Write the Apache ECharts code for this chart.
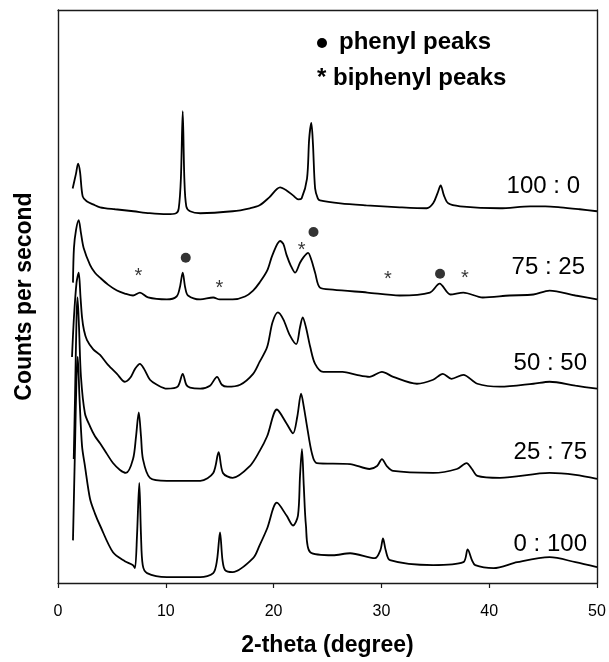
<!DOCTYPE html>
<html><head><meta charset="utf-8">
<script src="https://cdn.jsdelivr.net/npm/echarts@6/dist/echarts.min.js"></script>
<style>html,body{margin:0;padding:0;background:#fff;overflow:hidden}#c{width:609px;height:662px}</style>
</head><body><div id="c"></div>
<script>
// [2-theta (deg), counts (arbitrary, offset-stacked)]
const trace100_0 = [[1.36,398],[1.67,413],[1.86,423],[2.04,415],[2.29,390],[2.66,385],[3.25,382],[3.9,379],[5.3,377],[7.0,375],[8.5,373],[10.1,372],[10.95,373],[11.2,378],[11.4,408],[11.57,476],[11.72,408],[11.9,380],[12.25,375],[13.2,373],[16.2,375],[17.8,378],[18.7,381],[19.6,389],[20.6,399],[21.2,396],[21.8,391],[22.3,387],[22.6,388],[23.1,408],[23.3,448],[23.5,464],[23.65,443],[23.85,398],[24.1,388],[24.3,386],[26.2,383],[28.6,381],[31.7,379],[34.2,378],[34.8,383],[35.2,393],[35.5,401],[35.8,391],[36.2,383],[37.3,380],[41.0,378],[43.8,380],[45.2,380],[46.6,379],[48.4,377],[50,375]];
const trace75_25 = [[1.39,303],[1.48,338],[1.67,356],[1.92,366],[2.13,353],[2.38,338],[2.97,321],[3.43,313],[3.9,308],[4.64,301],[5.47,295],[6.2,292],[6.96,290],[7.6,293],[8.35,288],[10.1,286],[11.0,289],[11.3,298],[11.57,313],[11.8,298],[12.06,290],[13.2,286],[14.4,288],[15.0,286],[16.2,286],[17.35,289],[18.1,295],[18.7,303],[19.4,315],[19.9,331],[20.6,345],[20.9,342],[21.2,331],[21.6,320],[22.0,313],[22.45,323],[22.8,329],[23.2,333],[23.5,326],[23.85,313],[24.3,298],[25.5,296],[28.7,293],[31.7,290],[34.5,293],[35.4,302],[36.4,291],[37.6,293],[39.4,288],[41.9,290],[44.1,291],[45.6,295],[48.0,290],[50,286]];
const trace50_50 = [[1.3,228],[1.48,268],[1.72,303],[1.92,313],[2.09,288],[2.23,268],[2.41,255],[2.69,245],[3.25,236],[3.9,230],[4.64,220],[5.47,211],[6.2,203],[6.7,207],[7.15,216],[7.6,221],[7.98,216],[8.53,205],[9.18,200],[10.1,196],[11.1,198],[11.57,211],[11.9,200],[12.25,197],[13.2,196],[14.1,199],[14.75,208],[15.2,200],[15.7,198],[16.9,200],[18.1,211],[18.7,223],[19.4,238],[19.9,263],[20.4,273],[20.9,266],[21.5,250],[22.1,241],[22.45,258],[22.7,268],[23.0,258],[23.4,238],[23.85,221],[24.6,213],[26.4,213],[27.7,210],[28.9,208],[30.05,213],[31.1,208],[33.3,201],[34.8,205],[35.7,211],[36.5,206],[37.6,210],[38.9,201],[41.0,198],[44.1,201],[45.6,203],[48.0,199],[50,196]];
const trace25_75 = [[1.46,125],[1.58,188],[1.72,268],[1.81,288],[1.95,258],[2.13,208],[2.5,171],[2.97,158],[3.43,148],[3.9,141],[4.55,130],[5.1,121],[5.75,114],[6.3,111],[6.96,125],[7.24,148],[7.49,172],[7.7,148],[7.88,125],[8.53,106],[10.1,103],[13.2,103],[14.4,111],[14.9,132],[15.3,111],[16.2,106],[17.8,118],[18.7,133],[19.4,148],[20.3,175],[21.2,161],[21.8,151],[22.2,168],[22.55,191],[22.8,178],[23.1,158],[23.55,131],[24.0,121],[27.1,120],[28.9,115],[29.6,118],[30.05,125],[30.5,118],[31.1,113],[34.8,111],[37.0,115],[37.9,121],[38.4,115],[38.9,108],[41.0,106],[45.6,111],[48.0,109],[50,105]];
const trace0_100 = [[1.39,43],[1.58,138],[1.72,208],[1.83,228],[1.99,188],[2.23,138],[2.5,118],[2.97,85],[3.43,70],[3.9,58],[5.1,31],[6.2,22],[6.96,18],[7.14,15],[7.33,48],[7.54,101],[7.7,48],[7.86,18],[8.26,10],[10.1,6],[13.2,6],[14.4,10],[14.75,23],[15.03,51],[15.26,23],[15.5,13],[16.2,11],[18.1,25],[18.7,38],[19.4,55],[20.3,81],[21.2,68],[21.8,58],[22.26,68],[22.45,108],[22.63,135],[22.8,98],[23.0,58],[23.4,31],[25.5,28],[27.1,30],[29.4,25],[29.9,33],[30.15,45],[30.4,33],[30.8,23],[34.8,18],[37.6,21],[38.0,34],[38.4,23],[38.7,18],[40.4,15],[42.6,21],[45.6,26],[48.0,21],[50,16]];
const phenylMarks = [[11.85,328],[23.7,354],[35.44,312]];
const biphenylMarks = [[7.45,314],[14.96,302],[22.6,340],[30.6,311],[37.75,312]];
const ratioLabels = ['100 : 0','75 : 25','50 : 50','25 : 75','0 : 100'];
const xTicks = [0,10,20,30,40,50];

const FONT = "'Liberation Sans', Arial, sans-serif";
const chart = echarts.init(document.getElementById('c'), null, {renderer:'canvas'});
const traces = [trace100_0, trace75_25, trace50_50, trace25_75, trace0_100];
const lineSeries = traces.map(t => ({
  type:'line', data:t, showSymbol:false, symbol:'none', smooth:0.3,
  lineStyle:{color:'#000', width:1.8}, silent:true, animation:false
}));
const labelPos = [[580,186],[585,267],[587,363],[587,452],[587,544]];
const frame = {show:true, onZero:false, lineStyle:{color:'#1a1a1a', width:1.4}};
chart.setOption({
  animation:false,
  backgroundColor:'#fff',
  grid:{left:58, right:12, top:10, bottom:74},
  xAxis:[{type:'value', min:xTicks[0], max:xTicks[xTicks.length-1], interval:10,
    name:'2-theta (degree)', nameLocation:'middle', nameGap:51,
    nameTextStyle:{fontFamily:FONT, fontWeight:'bold', fontSize:23, color:'#000'},
    axisLine:frame,
    axisTick:{show:true, inside:false, length:5, lineStyle:{color:'#1a1a1a', width:1.2}},
    axisLabel:{fontFamily:FONT, fontSize:16, color:'#000', margin:21},
    splitLine:{show:false}},
    {type:'value', position:'top', min:0, max:50,
     axisLine:frame, axisTick:{show:false}, axisLabel:{show:false}, splitLine:{show:false}}],
  yAxis:[{type:'value', min:0, max:578,
    name:'Counts per second', nameLocation:'middle', nameGap:22,
    nameTextStyle:{fontFamily:FONT, fontWeight:'bold', fontSize:23, color:'#000'},
    axisLine:frame,
    axisTick:{show:false}, axisLabel:{show:false}, splitLine:{show:false}},
    {type:'value', position:'right', min:0, max:578,
     axisLine:frame, axisTick:{show:false}, axisLabel:{show:false}, splitLine:{show:false}}],
  series: lineSeries.concat([
    {type:'scatter', data:phenylMarks, symbol:'circle', symbolSize:10, itemStyle:{color:'#000'}, silent:true},
    {type:'scatter', data:biphenylMarks, symbol:'circle', symbolSize:0, itemStyle:{color:'transparent'}, silent:true,
      label:{show:true, formatter:'*', position:'inside', offset:[0,5], fontFamily:FONT, fontSize:20, color:'#000'}}
  ]),
  graphic: [
    {type:'circle', shape:{cx:322, cy:43, r:5}, style:{fill:'#000'}},
    {type:'text', x:339, y:42, style:{text:'phenyl peaks', font:"bold 24px "+FONT, fill:'#000', textAlign:'left', textVerticalAlign:'middle'}},
    {type:'text', x:317, y:78, style:{text:'* biphenyl peaks', font:"bold 24px "+FONT, fill:'#000', textAlign:'left', textVerticalAlign:'middle'}}
  ].concat(ratioLabels.map((s,i)=>({type:'text', x:labelPos[i][0], y:labelPos[i][1],
    style:{text:s, font:"24px "+FONT, fill:'#000', textAlign:'right', textVerticalAlign:'middle'}})))
});
</script></body></html>
